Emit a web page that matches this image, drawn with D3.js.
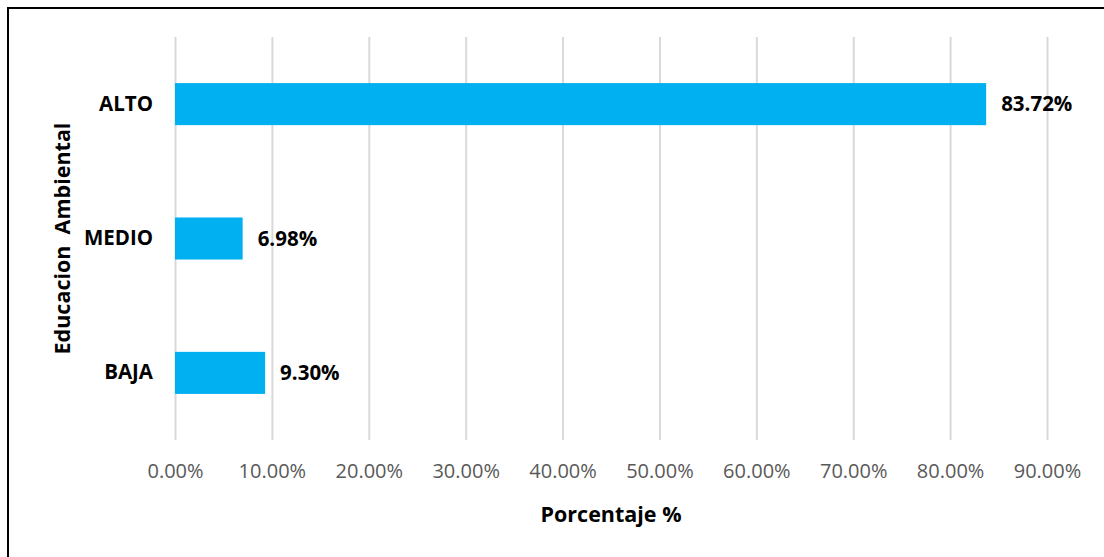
<!DOCTYPE html>
<html>
<head>
<meta charset="utf-8">
<script src="https://cdn.jsdelivr.net/npm/d3@7"></script>
<style>
  body { margin: 0; background: #fff; }
  svg { font-family: "Open Sans", "Noto Sans", sans-serif; }
  .grid line { stroke: #d9d9d9; stroke-width: 2px; }
  .grid path { display: none; }
</style>
</head>
<body>
<div id="chart"></div>
<script>
const categories = ["ALTO", "MEDIO", "BAJA"]
const values = [83.72, 6.98, 9.30]
const tickValues = [0, 10, 20, 30, 40, 50, 60, 70, 80, 90]

const W = 1104, H = 557
const MARGIN = { LEFT: 175, RIGHT: 57, TOP: 37, BOTTOM: 117 }
const WIDTH = W - MARGIN.LEFT - MARGIN.RIGHT
const HEIGHT = H - MARGIN.TOP - MARGIN.BOTTOM

const svg = d3.select("#chart").append("svg")
  .attr("width", W)
  .attr("height", H)

// frame (only left and top edges show in the picture)
svg.append("path")
  .attr("d", "M8,557 L8,8 L1104,8")
  .attr("fill", "none")
  .attr("stroke", "#000")
  .attr("stroke-width", 2)

const g = svg.append("g")
  .attr("transform", `translate(${MARGIN.LEFT}, ${MARGIN.TOP})`)

const x = d3.scaleLinear().domain([0, 90]).range([0, WIDTH])
const y = d3.scaleBand().domain(categories).range([0, HEIGHT]).paddingInner(0.687).paddingOuter(0.343)

// gridlines
g.append("g")
  .attr("class", "grid")
  .attr("transform", `translate(0, ${HEIGHT})`)
  .call(d3.axisBottom(x).tickValues(tickValues).tickSize(-HEIGHT).tickFormat(""))

// x tick labels
g.append("g")
  .attr("transform", `translate(0, ${HEIGHT})`)
  .call(d3.axisBottom(x).tickValues(tickValues).tickSize(0).tickPadding(24)
    .tickFormat(d => d.toFixed(2) + "%"))
  .call(a => a.select(".domain").remove())
  .selectAll("text")
    .attr("font-size", "20px")
    .attr("fill", "#595959")
    .attr("font-family", "Open Sans")

// y category labels
g.append("g")
  .call(d3.axisLeft(y).tickSize(0).tickPadding(22))
  .call(a => a.select(".domain").remove())
  .selectAll("text")
    .attr("font-size", "20.5px")
    .attr("font-weight", "bold")
    .attr("fill", "#000")
    .attr("font-family", "Open Sans")

// bars
g.selectAll(".bar")
  .data(categories)
  .enter().append("rect")
    .attr("class", "bar")
    .attr("x", x(0))
    .attr("y", d => y(d))
    .attr("width", (d, i) => x(values[i]) - x(0))
    .attr("height", y.bandwidth())
    .attr("fill", "#00b0f0")

// value labels
g.selectAll(".val")
  .data(categories)
  .enter().append("text")
    .attr("class", "val")
    .attr("x", (d, i) => x(values[i]) + 15)
    .attr("y", d => y(d) + y.bandwidth() / 2)
    .attr("dy", "0.35em")
    .attr("font-size", "20.5px")
    .attr("font-weight", "bold")
    .text((d, i) => values[i].toFixed(2) + "%")

// x axis title
g.append("text")
  .attr("x", WIDTH / 2)
  .attr("y", HEIGHT + 82)
  .attr("text-anchor", "middle")
  .attr("font-size", "21.5px")
  .attr("font-weight", "bold")
  .text("Porcentaje %")

// y axis title
g.append("text")
  .attr("transform", "rotate(-90)")
  .attr("x", -(y("MEDIO") + y.bandwidth() / 2))
  .attr("y", -105)
  .attr("text-anchor", "middle")
  .attr("font-size", "21.5px")
  .attr("font-weight", "bold")
  .attr("xml:space", "preserve")
  .text("Educacion  Ambiental")
</script>
</body>
</html>
